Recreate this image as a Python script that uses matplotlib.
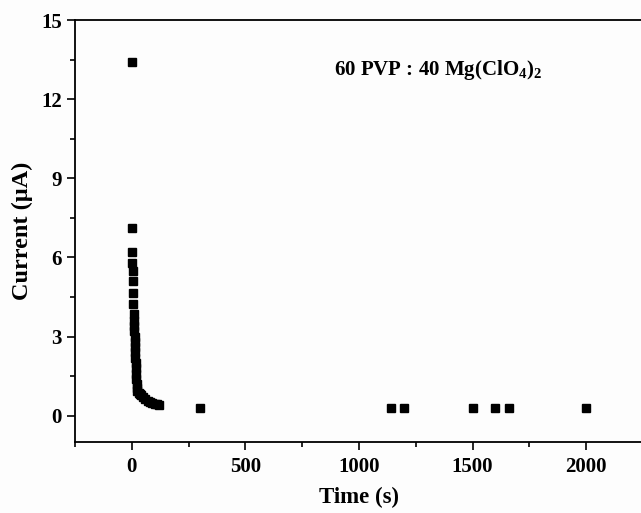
import matplotlib
matplotlib.use("Agg")
import matplotlib.pyplot as plt
from matplotlib.ticker import MultipleLocator

# chronoamperometry data
time_s = [0, 1, 2, 3, 4, 5, 6, 7,
          8, 9, 10, 11, 12, 13, 14, 15, 16, 17, 18, 19, 20, 21, 22,
          25, 30, 35, 40, 50, 60, 70, 80, 90, 100, 110, 120,
          300, 1140, 1200, 1500, 1600, 1660, 2000]
current_uA = [13.4, 7.1, 6.2, 5.8, 5.5, 5.1, 4.65, 4.25,
              3.85, 3.6, 3.4, 3.2, 3.0, 2.8, 2.6, 2.4, 2.2, 2.0, 1.8, 1.6, 1.4, 1.2, 1.05,
              0.95, 0.88, 0.82, 0.78, 0.7, 0.63, 0.58, 0.54, 0.5, 0.46, 0.43, 0.4,
              0.3, 0.3, 0.3, 0.3, 0.3, 0.3, 0.3]

xticks = [0, 500, 1000, 1500, 2000]
yticks = [0, 3, 6, 9, 12, 15]

plt.rcParams['font.family'] = ['Liberation Serif', 'DejaVu Serif']
plt.rcParams['mathtext.fontset'] = 'custom'
plt.rcParams['mathtext.rm'] = 'Liberation Serif:bold'
plt.rcParams['mathtext.it'] = 'Liberation Serif:bold'
plt.rcParams['mathtext.bf'] = 'Liberation Serif:bold'

fig = plt.figure(figsize=(6.41, 5.13), dpi=100)
fig.patch.set_facecolor('#fdfdfd')
ax = fig.add_axes([0.117, 0.138, 0.886, 0.823])
ax.set_facecolor('#fdfdfd')

ax.plot(time_s, current_uA, 's', color='black', ms=6, mec='black')

ax.set_xlim(-250, 2250)
ax.set_ylim(-1, 15)
ax.set_xticks(xticks)
ax.set_yticks(yticks)
ax.xaxis.set_minor_locator(MultipleLocator(250))
ax.yaxis.set_minor_locator(MultipleLocator(1.5))

for side in ['left', 'bottom', 'top']:
    ax.spines[side].set_linewidth(1.3)
ax.spines['right'].set_visible(False)

ax.tick_params(which='major', direction='out', length=6, width=1.2,
               labelsize=15, top=False, right=False)
ax.tick_params(which='minor', direction='out', length=3.5, width=1.2,
               top=False, right=False)
ax.tick_params(axis='x', pad=5)
for lab in ax.get_xticklabels() + ax.get_yticklabels():
    lab.set_fontweight('bold')

ax.set_xlabel('Time (s)', fontsize=16.5, fontweight='bold', labelpad=7)
ax.set_ylabel('Current (\u00b5A)', fontsize=17.5, fontweight='bold', labelpad=6)

ax.text(890, 13.1, r'60 PVP : 40 Mg(ClO$_4$)$_2$', fontsize=15,
        fontweight='bold', va='center', ha='left')

fig.savefig('out.png', dpi=100, facecolor=fig.get_facecolor())
